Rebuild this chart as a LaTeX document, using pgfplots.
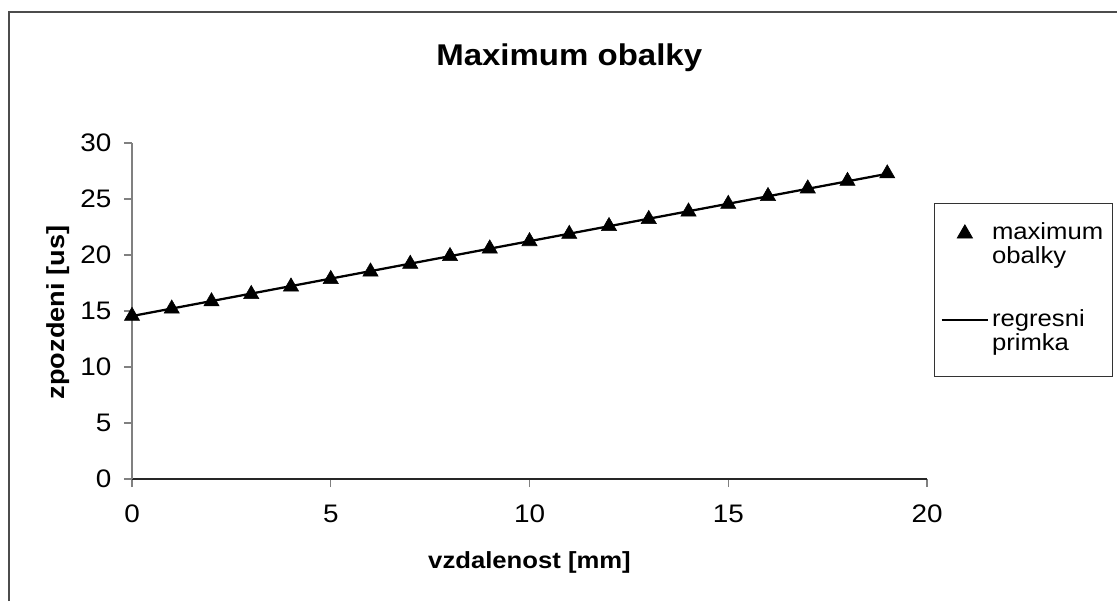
\documentclass[border=0pt]{standalone}
\usepackage{fontspec}
\setmainfont[FakeStretch=1.1]{Liberation Sans}
\usepackage{pgfplots}
\pgfplotsset{compat=1.18}
\pgfplotstableread{
x y
0 14.55
1 15.20
2 15.85
3 16.50
4 17.17
5 17.84
6 18.51
7 19.20
8 19.89
9 20.57
10 21.22
11 21.87
12 22.57
13 23.20
14 23.87
15 24.55
16 25.25
17 25.93
18 26.60
19 27.27
}\maxdata
\pgfplotstableread{
x y
0 14.55
19 27.25
}\regdata
\begin{document}
\begin{tikzpicture}
\path[use as bounding box] (0,0) rectangle (837.75pt,450.75pt);
\draw[black!70, line width=0.8pt] (6.75pt,0) -- (6.75pt,441.75pt) -- (837.75pt,441.75pt);
\begin{axis}[
  at={(99pt,91.5pt)}, anchor=south west,
  scale only axis, width=596.25pt, height=252pt,
  xmin=0, xmax=20, ymin=0, ymax=30,
  xtick={0,5,...,20}, ytick={0,5,...,30},
  axis lines=left, axis line style={-},
  x axis line style={black!85, line width=0.8pt},
  y axis line style={gray, line width=0.8pt},
  tick align=outside, major tick length=6pt,
  tick style={gray, line width=0.8pt},
  /pgf/number format/assume math mode=true,
  tick label style={font=\fontsize{19}{22}\selectfont},
  yticklabel style={xshift=-6pt},
  xticklabel style={yshift=-10pt},
  xlabel={vzdalenost [mm]}, ylabel={zpozdeni [us]},
  xlabel style={font=\bfseries\fontsize{17.5}{21}\selectfont, at={(axis description cs:0.5,-0.265)}, anchor=base},
  ylabel style={font=\bfseries\fontsize{18.5}{22}\selectfont, at={(axis description cs:-0.093,0.4955)}, anchor=center},
  title={Maximum obalky},
  title style={font=\bfseries\fontsize{22.5}{26}\selectfont, at={(axis description cs:0.550,1.208)}, anchor=base},
  clip=false,
  legend style={at={(1.0088,0.8214)}, anchor=north west, draw=black!80, line width=0.6pt,
    font=\fontsize{17.5}{17.25}\selectfont, inner xsep=4.5pt, inner ysep=12.5pt,
    row sep=25.25pt, cells={anchor=base west},
    nodes={inner sep=2pt, text depth=, text height=}},
  legend image code/.code={\draw[mark repeat=2,mark phase=2,#1] plot coordinates {(0pt,4.5pt) (17.5pt,4.5pt) (35pt,4.5pt)};},
]
\addplot[only marks, mark=triangle*, mark size=6.6pt, black] table {\maxdata};
\addlegendentry{\begin{tabular}[t]{@{}l@{}}maximum\\obalky\end{tabular}}
\addplot[black, line width=1.7pt, no marks] table {\regdata};
\addlegendentry{\begin{tabular}[t]{@{}l@{}}regresni\\primka\end{tabular}}
\end{axis}
\end{tikzpicture}
\end{document}
